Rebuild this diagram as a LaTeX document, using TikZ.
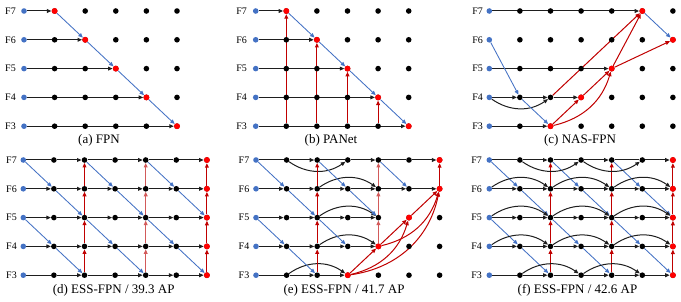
\documentclass[tikz,border=0pt]{standalone}
\usepackage{fontspec}
\setmainfont{Liberation Serif}
\usepackage{tikz}
\usetikzlibrary{arrows.meta,backgrounds}
\definecolor{fpnblue}{HTML}{4472C4}
\definecolor{fpnred}{HTML}{FF0000}
\definecolor{fpnline}{HTML}{C00000}
\definecolor{fpnlight}{HTML}{D25A5A}
\definecolor{fpngrey}{HTML}{1E1E1E}

\tikzset{
  fdot/.style={circle,fill=black,inner sep=0pt,minimum size=5.6pt},
  indot/.style={fdot,fill=fpnblue},
  outdot/.style={fdot,fill=fpnred,minimum size=6pt},
  arr/.style={-{Triangle[length=4.5pt,width=3.8pt]}},
  hl/.style={draw=fpngrey,line width=1pt},
  ha/.style={hl,arr},
  bl/.style={draw=fpnblue,line width=0.85pt,arr},
  rl/.style={draw=fpnline,line width=1pt,arr},
  rlight/.style={rl,draw=fpnlight},
  lvl/.style={font=\fontsize{10}{12}\selectfont},
  capt/.style={font=\fontsize{13}{15}\selectfont}
}

\begin{document}
\begin{tikzpicture}[x=1pt,y=-1pt]
\useasboundingbox (0,0) rectangle (681,302);
% grids of levels
\foreach \p/\x/\y/\n/\lx in {a/24/11/5/10.5, b/255.7/11/5/241.7, c/489.3/11/6/477.7,
                             d/23.3/160/6/11.5, e/256/160/6/244, f/489.3/160/6/476.7} {
  \foreach \r in {3,...,7} {
    \pgfmathsetmacro{\yy}{\y+(7-\r)*28.8}
    \node[lvl] (\p-l-\r) at (\lx,\yy) {F\r};
    \node[indot] (\p-0-\r) at (\x,\yy) {};
    \foreach \c in {1,...,\n}
      \node[fdot] (\p-\c-\r) at (\x+\c*30.6,\yy) {};
  }
}
% output nodes
\foreach \m in {a-1-7,a-2-6,a-3-5,a-4-4,a-5-3,b-1-7,b-2-6,b-3-5,b-4-4,b-5-3,
                c-5-7,c-6-6,c-4-5,c-3-4,c-2-3,d-6-3,d-6-4,d-6-5,d-6-6,d-6-7,
                e-3-3,e-4-4,e-5-5,e-6-6,e-6-7,f-6-3,f-6-4,f-6-5,f-6-6,f-6-7}
  \node[outdot] (\m) at (\m) {};
% captions
\node[capt] (a-cap) at (99,140.5) {(a) FPN};
\node[capt] (b-cap) at (331,140.5) {(b) PANet};
\node[capt] (c-cap) at (580,140.5) {(c) NAS-FPN};
\node[capt] (d-cap) at (113.7,290) {(d) ESS-FPN / 39.3 AP};
\node[capt] (e-cap) at (344,290) {(e) ESS-FPN / 41.7 AP};
\node[capt] (f-cap) at (577.5,290) {(f) ESS-FPN / 42.6 AP};

\begin{scope}[on background layer]
% (a) FPN, (b) PANet
\foreach \p in {a,b} {
  \foreach \r in {7,...,3} {
    \pgfmathtruncatemacro{\c}{8-\r}
    \draw[ha] (\p-0-\r) -- (\p-\c-\r);
  }
  \foreach \r in {7,...,4} {
    \pgfmathtruncatemacro{\c}{8-\r}
    \pgfmathtruncatemacro{\cc}{\c+1}
    \pgfmathtruncatemacro{\rr}{\r-1}
    \draw[bl] (\p-\c-\r) -- (\p-\cc-\rr);
  }
}
\foreach \r in {7,...,4} {
  \pgfmathtruncatemacro{\c}{8-\r}
  \draw[rl] (b-\c-3) -- (b-\c-\r);
}
% (c) NAS-FPN
\draw[ha] (c-0-7) -- (c-5-7);
\draw[ha] (c-0-5) -- (c-4-5);
\draw[ha] (c-0-4) -- (c-1-4);
\draw[ha] (c-1-4) -- (c-2-4);
\draw[ha] (c-2-4) -- (c-3-4);
\draw[ha] (c-0-4) to[bend right=35] (c-2-4);
\draw[ha] (c-0-3) -- (c-2-3);
\draw[bl] (c-0-6) -- (c-1-4);
\draw[bl] (c-1-4) -- (c-2-3);
\draw[bl] (c-5-7) -- (c-6-6);
\draw[rl] (c-2-3) -- (c-3-4);
\draw[rl] (c-2-3) to[bend right=30] (c-4-5);
\draw[rl] (c-3-4) -- (c-4-5);
\draw[rl] (c-2-4) -- (c-5-7);
\draw[rl] (c-4-5) -- (c-5-7);
\draw[rl] (c-4-5) -- (c-6-6);
% (d), (f) ESS-FPN
\foreach \p/\mid in {d/rlight,f/rl} {
  \foreach \r in {6,5,4}
    \foreach \c [count=\i from 0] in {1,...,6}
      \draw[ha] (\p-\i-\r) -- (\p-\c-\r);
  \foreach \i/\j/\s in {0/1/hl,1/2/ha,2/3/hl,3/4/ha,4/5/hl,5/6/ha}
    \draw[\s] (\p-\i-7) -- (\p-\j-7);
  \foreach \i/\j/\s in {0/1/hl,1/2/ha,2/3/hl,3/4/ha,4/5/ha,5/6/ha}
    \draw[\s] (\p-\i-3) -- (\p-\j-3);
  \foreach \k in {0,2,4} {
    \pgfmathtruncatemacro{\ka}{\k+1}
    \pgfmathtruncatemacro{\kb}{\k+2}
    \draw[bl] (\p-\k-7) -- (\p-\ka-6);
    \draw[bl] (\p-\ka-6) -- (\p-\kb-5);
    \draw[bl] (\p-\k-5) -- (\p-\ka-4);
    \draw[bl] (\p-\ka-4) -- (\p-\kb-3);
  }
  \foreach \k/\st in {2/rl,4/\mid,6/rl}
    \foreach \r/\s in {3/4,4/5,5/6,6/7}
      \draw[\st] (\p-\k-\r) -- (\p-\k-\s);
}
\draw[ha] (f-1-7) to[bend right=35] (f-3-7);
\draw[ha] (f-3-7) to[bend right=35] (f-5-7);
\foreach \r in {6,5,4}
  \foreach \i/\j in {0/2,2/4,4/6}
    \draw[ha] (f-\i-\r) to[bend left=35] (f-\j-\r);
\draw[ha] (f-1-3) to[bend left=35] (f-3-3);
\draw[ha] (f-3-3) to[bend left=35] (f-5-3);
% (e) ESS-FPN
\foreach \i/\j/\s in {0/1/hl,1/2/ha,2/3/hl,3/4/ha,4/5/hl,5/6/ha}
  \draw[\s] (e-\i-7) -- (e-\j-7);
\foreach \c [count=\i from 0] in {1,...,6}
  \draw[ha] (e-\i-6) -- (e-\c-6);
\foreach \r in {5,4}
  \foreach \c [count=\i from 0] in {1,...,4}
    \draw[ha] (e-\i-\r) -- (e-\c-\r);
\foreach \i/\j/\s in {0/1/hl,1/2/ha,2/3/ha}
  \draw[\s] (e-\i-3) -- (e-\j-3);
\draw[ha] (e-1-7) to[bend right=35] (e-3-7);
\foreach \r in {6,5,4}
  \draw[ha] (e-2-\r) to[bend left=35] (e-4-\r);
\draw[ha] (e-1-3) to[bend left=35] (e-3-3);
\foreach \u/\v in {0-7/1-6,1-6/2-5,0-5/1-4,1-4/2-3,2-7/3-6,3-6/4-5,2-5/3-4,4-7/5-6}
  \draw[bl] (e-\u) -- (e-\v);
\foreach \r/\s in {3/4,4/5,5/6,6/7}
  \draw[rl] (e-2-\r) -- (e-2-\s);
\foreach \r/\s in {4/5,5/6,6/7}
  \draw[rlight] (e-4-\r) -- (e-4-\s);
\draw[rl] (e-6-6) -- (e-6-7);
\draw[rl] (e-3-3) -- (e-4-4);
\draw[rl] (e-4-4) -- (e-5-5);
\draw[rl] (e-5-5) -- (e-6-6);
\draw[rl] (e-3-3) to[bend right=30] (e-5-5);
\draw[rl] (e-4-4) to[bend right=30] (e-6-6);
\draw[rl] (e-3-3) to[bend right=35] (e-6-6);
\end{scope}
\end{tikzpicture}
\end{document}
